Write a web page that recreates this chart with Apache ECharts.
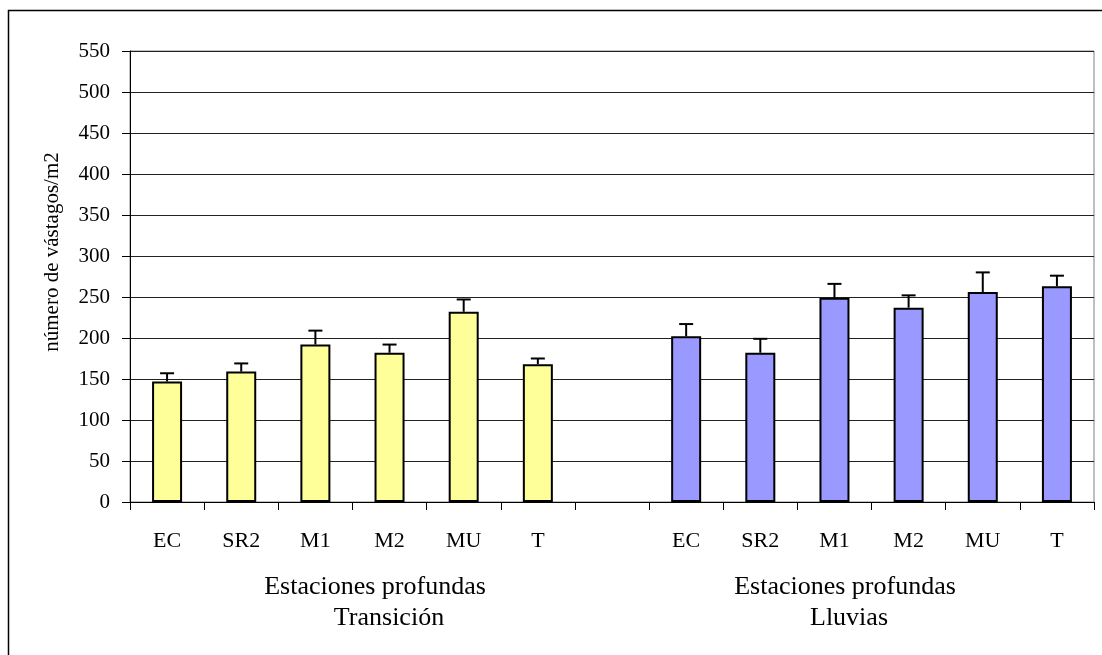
<!DOCTYPE html>
<html>
<head>
<meta charset="utf-8">
<script src="https://cdn.jsdelivr.net/npm/echarts@6/dist/echarts.min.js"></script>
<style>html,body{margin:0;padding:0;background:#fff;}#c{width:1102px;height:655px;}</style>
</head>
<body>
<div id="c"></div>
<script>
const categories = ['EC','SR2','M1','M2','MU','T','','EC','SR2','M1','M2','MU','T'];
const transicion = [147, 159, 192, 182, 232, 168];
const transicionErr = [10, 10, 17, 10, 15, 7];
const lluvias = [202, 182, 249, 237, 256, 263];
const lluviasErr = [15, 17, 17, 15, 24, 13];
const yTicks = {min: 0, max: 550, interval: 50};
const groupLabels = [
  {line1: 'Estaciones profundas', line2: 'Transición'},
  {line1: 'Estaciones profundas', line2: 'Lluvias'}
];
const yName = 'número de vástagos/m2';

const FONT = '"Liberation Serif", "Times New Roman", serif';
const yellowData = transicion.concat(new Array(7).fill('-'));
const blueData = new Array(7).fill('-').concat(lluvias);
const errData = [];
transicion.forEach((v, i) => errData.push([i, v, transicionErr[i]]));
lluvias.forEach((v, i) => errData.push([i + 7, v, lluviasErr[i]]));

const chart = echarts.init(document.getElementById('c'), null, {renderer: 'canvas'});
chart.setOption({
  animation: false,
  backgroundColor: '#fff',
  grid: {left: 130, right: 8, top: 51, bottom: 153, show: true, borderColor: '#808080', borderWidth: 1, containLabel: false},
  xAxis: {
    type: 'category', data: categories, boundaryGap: true,
    axisLine: {lineStyle: {color: '#000', width: 1}},
    axisTick: {show: true, length: 8, lineStyle: {color: '#000'}, alignWithLabel: false},
    axisLabel: {fontFamily: FONT, fontSize: 22, color: '#000', margin: 28, interval: 0}
  },
  yAxis: {
    type: 'value', min: yTicks.min, max: yTicks.max, interval: yTicks.interval,
    axisLine: {show: true, lineStyle: {color: '#000', width: 1}},
    axisTick: {show: true, length: 8, lineStyle: {color: '#000'}},
    axisLabel: {fontFamily: FONT, fontSize: 21, color: '#000', margin: 20},
    splitLine: {lineStyle: {color: '#222', width: 1}}
  },
  series: [
    {type: 'bar', data: yellowData, barWidth: 30, barGap: '-100%',
     itemStyle: {color: '#FFFF99', borderColor: '#000', borderWidth: 2}},
    {type: 'bar', data: blueData, barWidth: 30, barGap: '-100%',
     itemStyle: {color: '#9999FF', borderColor: '#000', borderWidth: 2}},
    {type: 'custom', data: errData, z: 10,
     renderItem: function (params, api) {
       const x = api.value(0), v = api.value(1), e = api.value(2);
       const p0 = api.coord([x, v]);
       const p1 = api.coord([x, v + e]);
       const hw = 7;
       return {type: 'group', children: [
         {type: 'line', shape: {x1: p0[0], y1: p0[1], x2: p1[0], y2: p1[1]}, style: {stroke: '#000', lineWidth: 2}},
         {type: 'line', shape: {x1: p1[0] - hw, y1: p1[1], x2: p1[0] + hw, y2: p1[1]}, style: {stroke: '#000', lineWidth: 2}}
       ]};
     }}
  ],
  graphic: [
    {type: 'rect', shape: {x: 8.5, y: 10.5, width: 1300, height: 1000}, style: {fill: null, stroke: '#000', lineWidth: 1.5}, silent: true, z: -1},
    {type: 'text', x: 52, y: 252, rotation: Math.PI / 2, style: {text: yName, font: '21px ' + FONT, fill: '#000', textAlign: 'center', textVerticalAlign: 'middle'}},
    {type: 'text', x: 375, y: 587, style: {text: groupLabels[0].line1, font: '26px ' + FONT, fill: '#000', textAlign: 'center', textVerticalAlign: 'middle'}},
    {type: 'text', x: 389, y: 618, style: {text: groupLabels[0].line2, font: '26px ' + FONT, fill: '#000', textAlign: 'center', textVerticalAlign: 'middle'}},
    {type: 'text', x: 845, y: 587, style: {text: groupLabels[1].line1, font: '26px ' + FONT, fill: '#000', textAlign: 'center', textVerticalAlign: 'middle'}},
    {type: 'text', x: 849, y: 618, style: {text: groupLabels[1].line2, font: '26px ' + FONT, fill: '#000', textAlign: 'center', textVerticalAlign: 'middle'}}
  ]
});
</script>
</body>
</html>
